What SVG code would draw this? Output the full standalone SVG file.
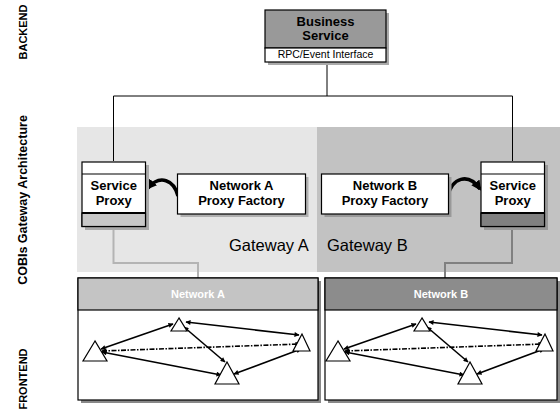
<svg xmlns="http://www.w3.org/2000/svg" width="560" height="413" viewBox="0 0 560 413">
<defs>
<style>
text{font-family:"Liberation Sans",Arial,sans-serif;}
.side{font-size:11px;font-weight:bold;fill:#000;}
.lbl{font-size:13px;font-weight:bold;fill:#000;}
.gw{font-size:16.5px;fill:#000;}
.hdr{font-size:11px;font-weight:bold;fill:#fff;}
.box{fill:#fff;stroke:#000;stroke-width:1.2;}
.conn{fill:none;stroke:#000;stroke-width:1;}
.net{fill:none;stroke:#000;stroke-width:1.6;marker-start:url(#ns);marker-end:url(#ne);}
.dash{stroke-dasharray:5 1.5 1.5 1.5;}
.tri{fill:#fff;stroke:#000;stroke-width:1.2;}
.curve{fill:none;stroke:#000;stroke-width:3.5;marker-end:url(#big);}
</style>
<marker id="ne" viewBox="0 0 10 10" refX="9" refY="5" markerWidth="6" markerHeight="5" markerUnits="userSpaceOnUse" orient="auto"><path d="M0,0L10,5L0,10z" fill="#000"/></marker>
<marker id="ns" viewBox="0 0 10 10" refX="1" refY="5" markerWidth="6" markerHeight="5" markerUnits="userSpaceOnUse" orient="auto"><path d="M10,0L0,5L10,10z" fill="#000"/></marker>
<marker id="big" viewBox="0 0 10 10" refX="8" refY="5" markerWidth="10" markerHeight="10" markerUnits="userSpaceOnUse" orient="auto"><path d="M0,0L10,5L0,10z" fill="#000"/></marker>
</defs>
<rect width="560" height="413" fill="#fff"/>

<g id="side-labels">
<text class="side" text-anchor="middle" transform="translate(26.5,32) rotate(-90)">BACKEND</text>
<text class="side" text-anchor="middle" font-size="12.5" transform="translate(26.5,200) rotate(-90)" style="font-size:12.5px">COBIs Gateway Architecture</text>
<text class="side" text-anchor="middle" transform="translate(26.5,379) rotate(-90)">FRONTEND</text>
</g>

<g id="gateway-a">
<rect x="77" y="127" width="240" height="145" fill="#e6e6e6"/>
<text class="gw" x="229" y="251">Gateway A</text>
</g>
<g id="gateway-b">
<rect x="317" y="127" width="243" height="145" fill="#c2c2c2"/>
<text class="gw" x="327" y="251">Gateway B</text>
</g>

<g id="connectors">
<polyline class="conn" points="327,62 327,96 113.5,96 113.5,161"/>
<polyline class="conn" points="327,96 512.5,96 512.5,161"/>
<polyline points="113.5,227 113.5,263 198,263 198,278" fill="none" stroke="#b4b4b4" stroke-width="2"/>
<polyline points="512,227 512,263 445,263 445,278" fill="none" stroke="#808080" stroke-width="2"/>
<path class="curve" d="M178,196 C174,180 160,174 148,188"/>
<path class="curve" d="M448,196 C452,178 468,172 480,189"/>
</g>

<g id="business-service">
<rect x="268" y="13" width="121" height="52" fill="#aaa"/>
<rect x="265" y="10" width="121" height="38" fill="#999" stroke="#000" stroke-width="1.2"/>
<rect x="265" y="48" width="121" height="14" class="box"/>
<text class="lbl" x="325.5" y="25.5" text-anchor="middle">Business</text>
<text class="lbl" x="325.5" y="39.5" text-anchor="middle">Service</text>
<text x="325.5" y="58" text-anchor="middle" font-size="10.5" fill="#000">RPC/Event Interface</text>
</g>

<g id="service-proxy-a">
<rect x="85" y="165" width="64" height="65" fill="#aaa"/>
<rect x="82" y="162" width="63.5" height="64.5" class="box"/>
<line x1="82" y1="174" x2="145.5" y2="174" stroke="#000" stroke-width="1.2"/>
<rect x="82" y="213" width="63.5" height="13.5" fill="#c8c8c8" stroke="#000" stroke-width="1.2"/>
<line x1="82" y1="213" x2="145.5" y2="213" stroke="#000" stroke-width="2.2"/>
<text class="lbl" x="113.75" y="190" text-anchor="middle">Service</text>
<text class="lbl" x="113.75" y="205" text-anchor="middle">Proxy</text>
</g>

<g id="factory-a">
<rect x="180.5" y="177" width="128" height="40" fill="#b0b0b0"/>
<rect x="177.5" y="174" width="128" height="40" class="box"/>
<text class="lbl" x="241.5" y="190" text-anchor="middle">Network A</text>
<text class="lbl" x="241.5" y="205" text-anchor="middle">Proxy Factory</text>
</g>

<g id="factory-b">
<rect x="324.5" y="177" width="127" height="40" fill="#999"/>
<rect x="321.5" y="174" width="127" height="40" class="box"/>
<text class="lbl" x="385" y="190" text-anchor="middle">Network B</text>
<text class="lbl" x="385" y="205" text-anchor="middle">Proxy Factory</text>
</g>

<g id="service-proxy-b">
<rect x="484" y="165" width="64" height="65" fill="#999"/>
<rect x="481" y="162" width="63.5" height="64.5" class="box"/>
<line x1="481" y1="174" x2="544.5" y2="174" stroke="#000" stroke-width="1.2"/>
<rect x="481" y="213" width="63.5" height="13.5" fill="#808080" stroke="#000" stroke-width="1.2"/>
<line x1="481" y1="213" x2="544.5" y2="213" stroke="#000" stroke-width="2.2"/>
<text class="lbl" x="512.75" y="190" text-anchor="middle">Service</text>
<text class="lbl" x="512.75" y="205" text-anchor="middle">Proxy</text>
</g>

<g id="network-a">
<rect x="81" y="281" width="240" height="122" fill="#888"/>
<rect x="78" y="278" width="240" height="122" class="box"/>
<rect x="78" y="278" width="240" height="32" fill="#c4c4c4" stroke="#000" stroke-width="1.2"/>
<text class="hdr" x="198" y="298" text-anchor="middle">Network A</text>
<g id="net-a-links">
<line class="net" x1="101" y1="349" x2="173" y2="324"/>
<line class="net" x1="186" y1="322" x2="299" y2="335"/>
<line class="net dash" x1="102" y1="351" x2="300" y2="344"/>
<line class="net" x1="102" y1="352" x2="221" y2="375"/>
<line class="net" x1="184" y1="327" x2="225" y2="362"/>
<line class="net" x1="234" y1="374" x2="301" y2="349"/>
</g>
<polygon class="tri" points="95,341 83,361 107,361"/>
<polygon class="tri" points="179,318 171,331 187,331"/>
<polygon class="tri" points="302,334 293,351 310,351"/>
<polygon class="tri" points="227,362 215,384 239,384"/>
</g>

<g id="network-b">
<rect x="328" y="281" width="232" height="122" fill="#888"/>
<rect x="325" y="278" width="232" height="122" class="box"/>
<rect x="325" y="278" width="232" height="32" fill="#8c8c8c" stroke="#000" stroke-width="1.2"/>
<text class="hdr" x="441" y="298" text-anchor="middle">Network B</text>
<g id="net-b-links" transform="translate(243,0)">
<line class="net" x1="101" y1="349" x2="173" y2="324"/>
<line class="net" x1="186" y1="322" x2="299" y2="335"/>
<line class="net dash" x1="102" y1="351" x2="300" y2="344"/>
<line class="net" x1="102" y1="352" x2="221" y2="375"/>
<line class="net" x1="184" y1="327" x2="225" y2="362"/>
<line class="net" x1="234" y1="374" x2="301" y2="349"/>
<polygon class="tri" points="95,341 83,361 107,361"/>
<polygon class="tri" points="179,318 171,331 187,331"/>
<polygon class="tri" points="302,334 293,351 310,351"/>
<polygon class="tri" points="227,362 215,384 239,384"/>
</g>
</g>
</svg>
